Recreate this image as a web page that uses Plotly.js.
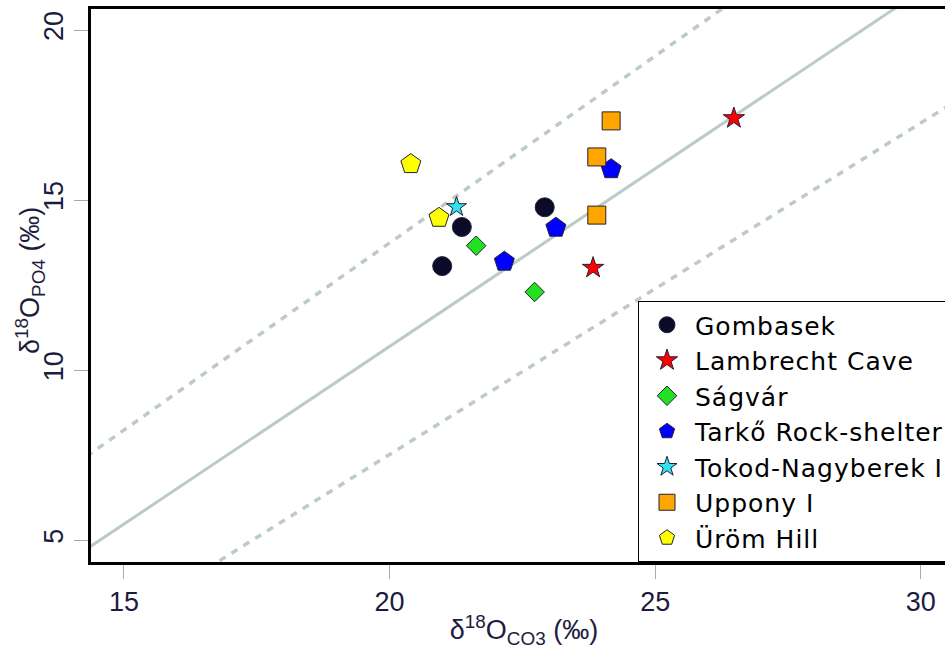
<!DOCTYPE html>
<html>
<head>
<meta charset="utf-8">
<script src="https://cdn.plot.ly/plotly-3.0.1.min.js"></script>
<style>
html, body { margin: 0; padding: 0; overflow: hidden; background: #fff; }
#chart { width: 967px; height: 649px; }
.legendtext { letter-spacing: 1px; }
</style>
</head>
<body>
<div id="chart"></div>
<script>
// Sites and measured values (δ18O carbonate, δ18O phosphate, ‰)
const siteNames = ["Gombasek", "Lambrecht Cave", "Ságvár", "Tarkő Rock-shelter", "Tokod-Nagyberek I", "Uppony I", "Üröm Hill"];

const gombasekX = [20.99, 21.36, 22.92];
const gombasekY = [13.06, 14.21, 14.79];

const lambrechtX = [26.48, 23.83];
const lambrechtY = [17.41, 13.01];

const sagvarX = [21.63, 22.73];
const sagvarY = [13.66, 12.30];

const tarkoX = [22.16, 23.13, 24.17];
const tarkoY = [13.19, 14.19, 15.91];

const tokodX = [21.26];
const tokodY = [14.80];

const upponyX = [24.17, 23.90, 23.90];
const upponyY = [17.33, 16.27, 14.56];

const uromX = [20.40, 20.93];
const uromY = [16.06, 14.48];

// Reference lines: slope and intercept (central line and bounding lines)
const lineSlopes = [1.045, 1.10, 0.975];
const lineIntercepts = [-10.20, -8.26, -11.98];
const lineXEnds = [13, 32];

const xTicks = [15, 20, 25, 30];
const yTicks = [5, 10, 15, 20];

const symbols = ["circle", "star", "diamond", "pentagon", "star", "square", "pentagon"];
const colors = ["#0b0b2a", "#ff0000", "#22e022", "#0000ff", "#33e0ee", "#ffa500", "#ffff00"];
const sizes = [19, 16, 15, 21, 15, 18, 21];

const seriesX = [gombasekX, lambrechtX, sagvarX, tarkoX, tokodX, upponyX, uromX];
const seriesY = [gombasekY, lambrechtY, sagvarY, tarkoY, tokodY, upponyY, uromY];

const lineColor = "#bccbc6";
const traces = [];
const dashed = [false, true, true];
for (let i = 0; i < lineSlopes.length; i++) {
  traces.push({
    x: lineXEnds,
    y: lineXEnds.map(v => lineSlopes[i] * v + lineIntercepts[i]),
    mode: "lines",
    line: { color: lineColor, width: dashed[i] ? 3.5 : 3, dash: dashed[i] ? "7px,7px" : "solid" },
    showlegend: false,
    hoverinfo: "skip"
  });
}
for (let i = 0; i < siteNames.length; i++) {
  traces.push({
    x: seriesX[i],
    y: seriesY[i],
    name: siteNames[i],
    mode: "markers",
    type: "scatter",
    marker: {
      symbol: symbols[i],
      color: colors[i],
      size: sizes[i],
      line: { color: "#222233", width: 1 }
    }
  });
}

const axisFontColor = "#1c1c3e";
const layout = {
  width: 967,
  height: 649,
  margin: { l: 91, r: 10, t: 9, b: 87 },
  paper_bgcolor: "#ffffff",
  plot_bgcolor: "#ffffff",
  font: { family: "Liberation Sans, Arial, sans-serif", color: axisFontColor },
  showlegend: true,
  xaxis: {
    range: [14.38, 30.68],
    tickvals: xTicks,
    ticktext: xTicks.map(String),
    ticks: "outside",
    ticklen: 14,
    tickwidth: 1,
    tickcolor: "#aaaaaa",
    showgrid: false,
    zeroline: false,
    showline: true,
    linecolor: "#000000",
    linewidth: 3,
    mirror: true,
    tickfont: { size: 27, color: axisFontColor },
    title: { text: "δ<sup>18</sup>O<sub>CO3</sub> (‰)", font: { size: 27, color: axisFontColor }, standoff: 8 }
  },
  yaxis: {
    range: [4.36, 20.62],
    tickvals: yTicks,
    ticktext: yTicks.map(String),
    ticks: "outside",
    ticklen: 14,
    tickwidth: 1,
    tickcolor: "#aaaaaa",
    tickangle: -90,
    showgrid: false,
    zeroline: false,
    showline: true,
    linecolor: "#000000",
    linewidth: 3,
    mirror: true,
    tickfont: { size: 27, color: axisFontColor }
  },
  annotations: [{
    text: "δ<sup>18</sup>O<sub>PO4</sub> (‰)",
    xref: "paper", yref: "paper",
    x: (30 - 91) / 866, y: (562 - 280) / 553,
    xanchor: "center", yanchor: "middle",
    textangle: -90,
    showarrow: false,
    font: { size: 27, color: axisFontColor, family: "Liberation Sans, Arial, sans-serif" }
  }],
  legend: {
    x: (638 - 91) / 866,
    xanchor: "left",
    y: 0,
    yanchor: "bottom",
    bgcolor: "#ffffff",
    bordercolor: "#000000",
    borderwidth: 1,
    itemwidth: 46,
    font: { size: 25, color: "#000000", family: "DejaVu Sans, sans-serif" },
    tracegroupgap: 0
  }
};

Plotly.newPlot("chart", traces, layout, { displayModeBar: false, staticPlot: true });
</script>
</body>
</html>
